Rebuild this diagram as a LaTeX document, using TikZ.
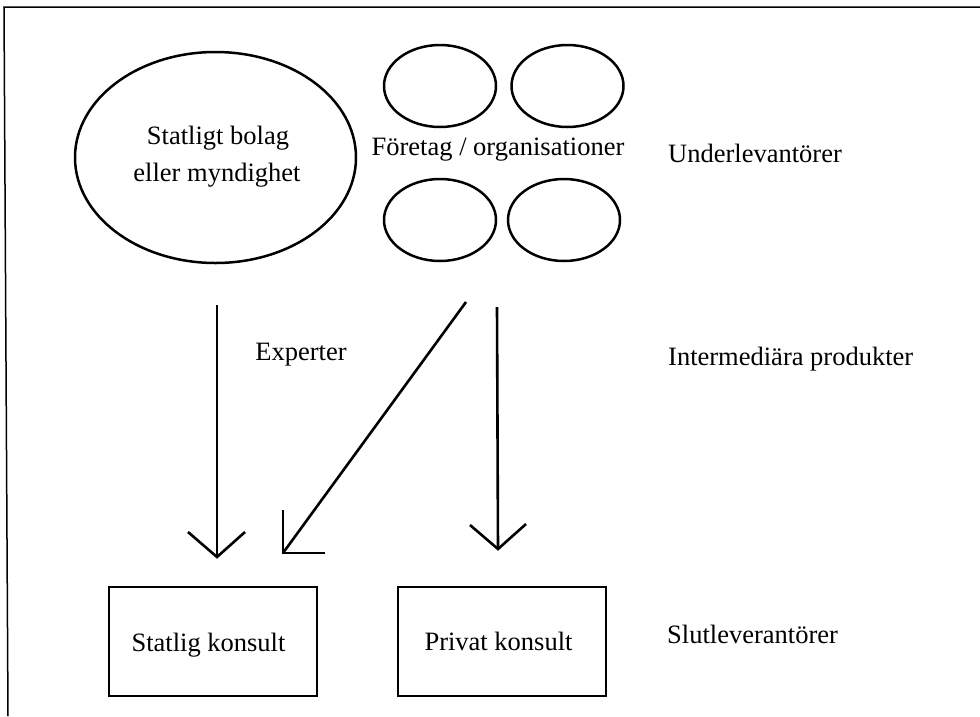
\documentclass[tikz,border=0pt]{standalone}
\usepackage{fontspec}
\setmainfont{Liberation Serif}
\usetikzlibrary{shapes.geometric}
\begin{document}
\begin{tikzpicture}[x=1pt,y=-1pt,
  txt/.style={inner sep=0pt, font=\fontsize{26.5}{32}\selectfont},
  bigell/.style={ellipse, draw, line width=2.5pt, inner sep=0pt, minimum width=281pt, minimum height=211pt},
  smallell/.style={ellipse, draw, line width=2.5pt, inner sep=0pt, minimum width=112pt, minimum height=82pt},
  kbox/.style={rectangle, draw, line width=2.6pt, minimum width=208pt, minimum height=109pt},
  conn/.style={line width=2.6pt, line join=miter},
  frame/.style={line width=1.5pt}]
\useasboundingbox (0,0) rectangle (980,716);
% frame
\coordinate (f1) at (4,7);
\coordinate (f2) at (980,7);
\coordinate (f3) at (8,716);
\draw[frame] (f2) -- (f1) -- (f3);
% ellipses
\node[bigell] (stat) at (215.5,157.5) {};
\node[txt, anchor=base] (statA) at (218,144) {Statligt bolag};
\node[txt, anchor=base] (statB) at (217,181) {eller myndighet};
\node[smallell] (o1) at (440,86) {};
\node[smallell] (o2) at (567.5,86) {};
\node[smallell] (o3) at (440,220) {};
\node[smallell] (o4) at (564,220) {};
\node[txt, anchor=base] (foretag) at (498,155) {Företag / organisationer};
% right column
\node[txt, anchor=base west] (under) at (668,162) {Underlevantörer};
\node[txt, anchor=base west] (inter) at (668,365) {Intermediära produkter};
\node[txt, anchor=base west] (slut) at (667,643) {Slutleverantörer};
% experter
\node[txt, anchor=base] (exp) at (301,360) {Experter};
% boxes
\node[kbox] (sk) at (213,641.5) {};
\node[kbox] (pk) at (502,641.5) {};
\node[txt, anchor=base] (sktext) at (208.5,651) {Statlig konsult};
\node[txt, anchor=base] (pktext) at (498.5,650) {Privat konsult};
% arrows
\coordinate (a1s) at (217,305);
\coordinate (a1e) at (217,557);
\coordinate (a2s) at (466,302);
\coordinate (a2e) at (283,553);
\coordinate (a3s) at (497,307);
\coordinate (a3e) at (498,549);
\draw[conn] (a1s) -- (a1e);
\draw[conn] (a1e) ++(-29,-25) -- (a1e) -- ++(28,-25);
\draw[conn] (a2s) -- (a2e);
\draw[conn] (a2e) ++(0,-43) -- (a2e) -- ++(42,0);
\draw[conn] (a3s) -- (a3e);
\draw[conn] (a3e) ++(-28,-24) -- (a3e) -- ++(28,-25);
\end{tikzpicture}
\end{document}
